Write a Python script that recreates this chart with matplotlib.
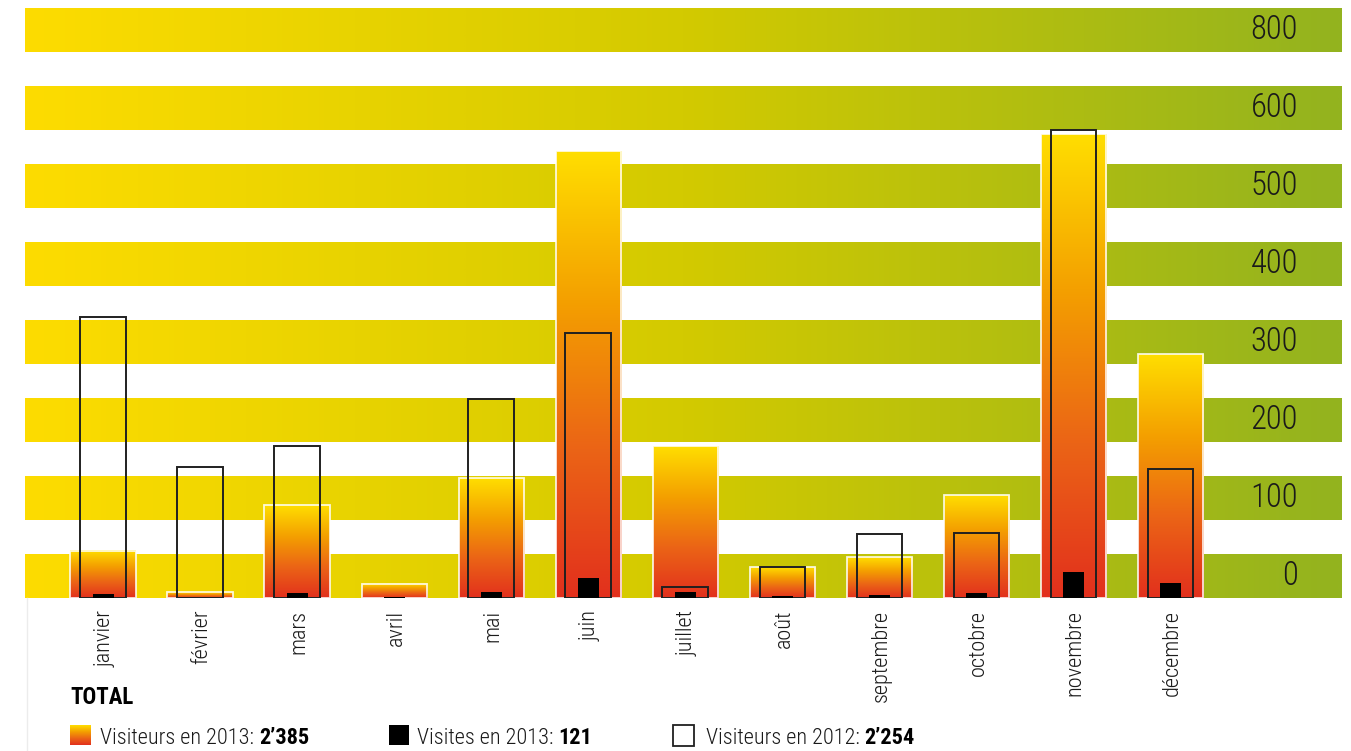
import numpy as np
import matplotlib
matplotlib.use("Agg")
import matplotlib.pyplot as plt
import matplotlib.transforms as mtransforms
from matplotlib.colors import LinearSegmentedColormap
from matplotlib.patches import Rectangle
from matplotlib.lines import Line2D

# ---- data -------------------------------------------------------------
months = ["janvier", "février", "mars", "avril", "mai", "juin", "juillet",
          "août", "septembre", "octobre", "novembre", "décembre"]
visiteurs_2013 = [64, 8, 126, 19, 162, 606, 206, 41, 55, 139, 629, 331]
visites_2013 = [5, 0, 6, 1, 8, 27, 8, 2, 3, 6, 35, 20]
visiteurs_2012 = [381, 177, 206, 0, 269, 359, 14, 42, 86, 88, 635, 174]
band_labels = ["0", "100", "200", "300", "400", "500", "600", "800"]
legend_labels = ["Visiteurs en 2013:", "Visites en 2013:", "Visiteurs en 2012:"]
legend_totals = ["2’385", "121", "2’254"]

FONT = ["Roboto Condensed", "Open Sans Condensed", "DejaVu Sans"]
STRETCH = "condensed"
TXT = "#1a1a1a"

W, H = 1351, 751
fig = plt.figure(figsize=(W / 100, H / 100), dpi=100)
fig.patch.set_facecolor("white")


def px_rect(x0, y0, x1, y1):
    return [x0 / W, 1 - y1 / H, (x1 - x0) / W, (y1 - y0) / H]


plot_rect = px_rect(25, 8, 1342, 597.7)

# ---- background: striped gradient bands with the scale labels ----------
band_cmap = LinearSegmentedColormap.from_list(
    "band", ["#FDDC00", "#D3CA00", "#93B31F"])
bg = fig.add_axes(plot_rect)
bg.axis("off")
band_h = 0.56
hgrad = np.linspace(0, 1, 512).reshape(1, -1)
for k, lab in enumerate(band_labels):
    bg.imshow(hgrad, extent=(0, 1, k, k + band_h), aspect="auto",
              cmap=band_cmap, interpolation="bilinear", zorder=1)
    bg.text(0.9666, k + band_h / 2, lab, ha="right", va="center",
            fontsize=23.5, fontweight="light", color=TXT, family=FONT,
            fontstretch=STRETCH, zorder=2)
bg.set_xlim(0, 1)
bg.set_ylim(0, 7 + band_h)

# ---- bars ---------------------------------------------------------------
bar_cmap = LinearSegmentedColormap.from_list(
    "bar", ["#E2301D", "#EB6416", "#F4A000", "#FFDE00"])
vgrad = np.linspace(0, 1, 256).reshape(-1, 1)

ax = fig.add_axes(plot_rect)
ax.patch.set_alpha(0)
ax.axis("off")
x = np.arange(len(months))

bars13 = ax.bar(x, visiteurs_2013, width=0.68, facecolor="none",
                edgecolor=(1, 1, 1, 0.85), linewidth=1.3, zorder=3)
for rect in bars13:
    x0, w, h = rect.get_x(), rect.get_width(), rect.get_height()
    ax.imshow(vgrad, extent=(x0, x0 + w, 0, h), origin="lower",
              aspect="auto", cmap=bar_cmap, interpolation="bilinear", zorder=2)

x12 = [xi for xi, v in zip(x, visiteurs_2012) if v > 0]
v12 = [v for v in visiteurs_2012 if v > 0]
ax.bar(x12, v12, width=0.474, fill=False, edgecolor="#202020",
       linewidth=1.4, zorder=4)

ax.bar(x, visites_2013, width=0.216, color="black", linewidth=0, zorder=5)

ax.set_xlim(-0.809, 12.768)
ax.set_ylim(0, 800)

# month names, rotated, hanging below the base line
lab_trans = mtransforms.blended_transform_factory(ax.transData, ax.transAxes)
for xi, m in zip(x, months):
    ax.text(xi + 0.015, -0.0205, m, rotation=90, ha="center", va="top",
            fontsize=16, fontweight="light", color=TXT, family=FONT,
            fontstretch=STRETCH, transform=lab_trans)

# faint left rule below the chart
fig.add_artist(Line2D([27 / W, 27 / W], [0, 1 - 598 / H],
                      color="#ececec", linewidth=1))

# ---- legend ---------------------------------------------------------------
fig.text(70 / W, 1 - 704 / H, "TOTAL", fontsize=16.5, fontweight="bold",
         color="black", family=FONT, fontstretch=STRETCH, va="baseline")

sw = fig.add_axes(px_rect(70, 725, 90.7, 745))
sw.imshow(vgrad, origin="lower", aspect="auto", cmap=bar_cmap,
          interpolation="bilinear")
sw.axis("off")
fig.add_artist(Rectangle((389 / W, 1 - 745 / H), 20 / W, 20 / H,
                         transform=fig.transFigure, facecolor="black",
                         edgecolor="none"))
fig.add_artist(Rectangle((673 / W, 1 - 745.5 / H), 21 / W, 20.5 / H,
                         transform=fig.transFigure, facecolor="white",
                         edgecolor="#202020", linewidth=1.3))

for tx, lab, tot in zip([100, 417, 706], legend_labels, legend_totals):
    t = fig.text(tx / W, 1 - 744 / H, lab, fontsize=16, fontweight="light",
                 color=TXT, family=FONT, fontstretch=STRETCH, va="baseline")
    bg.annotate(tot, xy=(1, 0), xycoords=t, xytext=(3.5, 0),
                textcoords="offset points", ha="left", va="bottom",
                fontsize=16, fontweight="bold", color="black", family=FONT,
                fontstretch=STRETCH, annotation_clip=False)

fig.savefig("out.png", dpi=100, facecolor="white")
